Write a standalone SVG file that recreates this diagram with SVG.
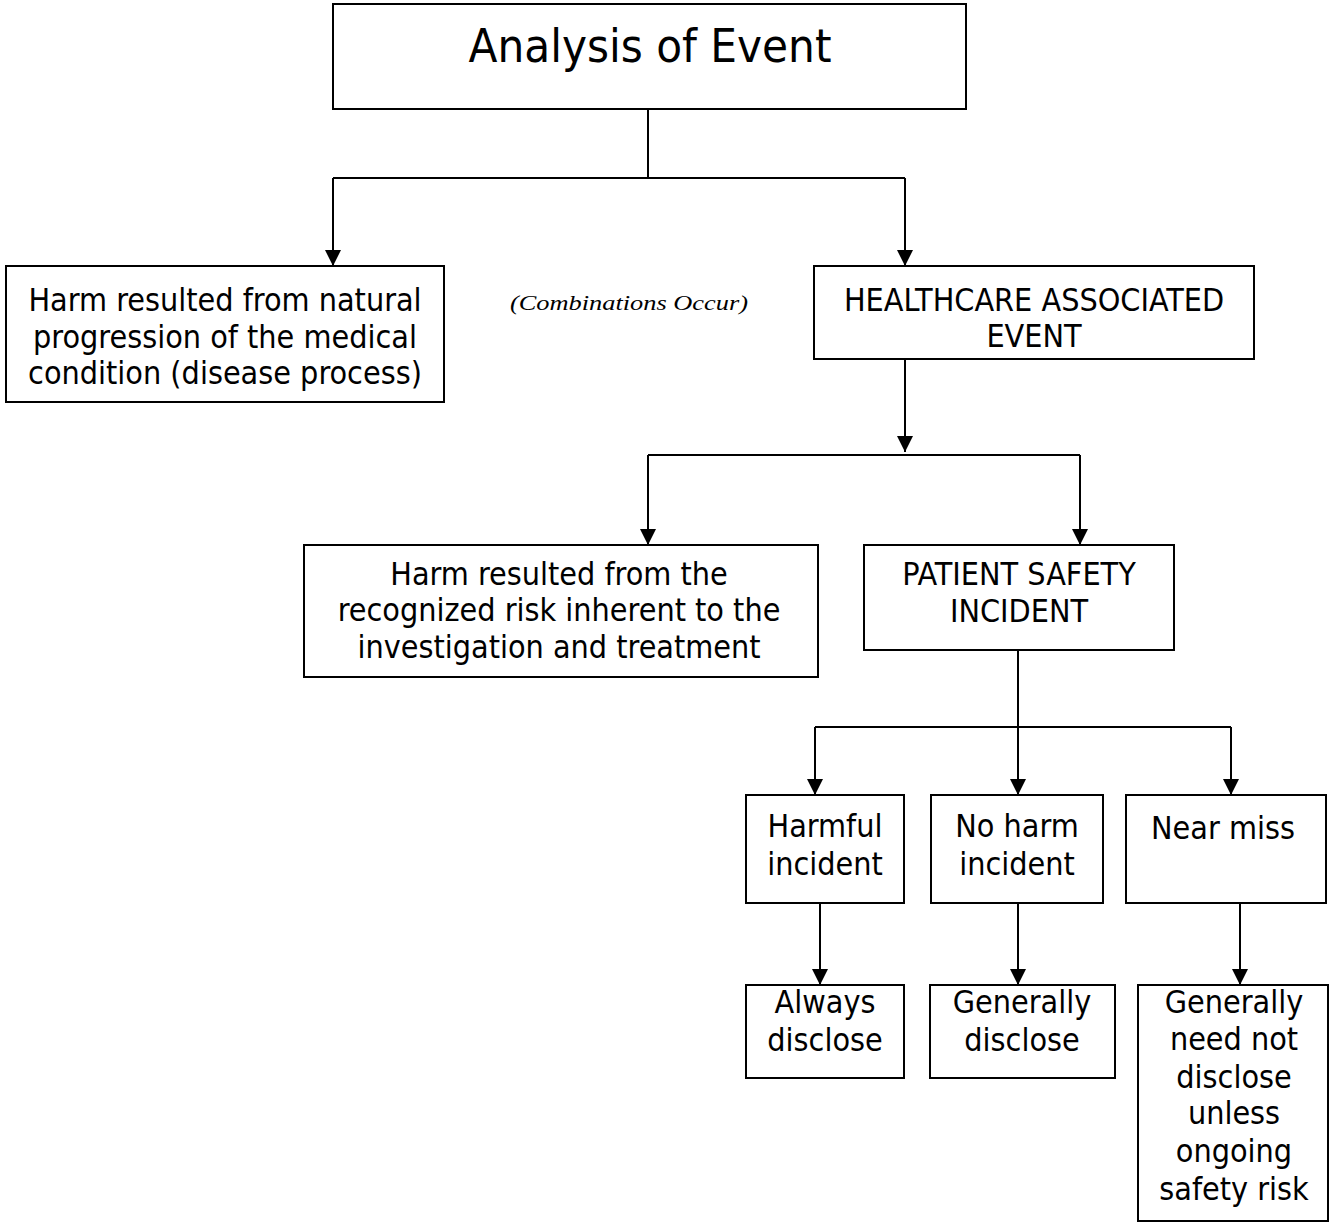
<svg xmlns="http://www.w3.org/2000/svg" width="1334" height="1224" viewBox="0 0 1334 1224">
<style>
.box{fill:#fff;stroke:#000;stroke-width:2}
.ln{fill:none;stroke:#000;stroke-width:2}
.t{font-family:"DejaVu Sans Condensed","DejaVu Sans",sans-serif;font-size:32px;fill:#000;text-anchor:middle}
.it{font-family:"Liberation Serif",serif;font-style:italic;font-size:22px;fill:#000;text-anchor:middle}
</style>
<defs>
<marker id="ah" viewBox="0 0 16 16" refX="16" refY="8" markerWidth="16" markerHeight="16" markerUnits="userSpaceOnUse" orient="auto">
<path d="M0,0 L16,8 L0,16 Z" fill="#000"/>
</marker>
</defs>
<rect width="1334" height="1224" fill="#fff"/>
<g id="connectors">
<line class="ln" x1="648" y1="109" x2="648" y2="178"/>
<line class="ln" x1="333" y1="178" x2="905" y2="178"/>
<line class="ln" x1="333" y1="178" x2="333" y2="266" marker-end="url(#ah)"/>
<line class="ln" x1="905" y1="178" x2="905" y2="266" marker-end="url(#ah)"/>
<line class="ln" x1="905" y1="359" x2="905" y2="452" marker-end="url(#ah)"/>
<line class="ln" x1="648" y1="455" x2="1080" y2="455"/>
<line class="ln" x1="648" y1="455" x2="648" y2="545" marker-end="url(#ah)"/>
<line class="ln" x1="1080" y1="455" x2="1080" y2="545" marker-end="url(#ah)"/>
<line class="ln" x1="1018" y1="650" x2="1018" y2="795" marker-end="url(#ah)"/>
<line class="ln" x1="815" y1="727" x2="1231" y2="727"/>
<line class="ln" x1="815" y1="727" x2="815" y2="795" marker-end="url(#ah)"/>
<line class="ln" x1="1231" y1="727" x2="1231" y2="795" marker-end="url(#ah)"/>
<line class="ln" x1="820" y1="903" x2="820" y2="985" marker-end="url(#ah)"/>
<line class="ln" x1="1018" y1="903" x2="1018" y2="985" marker-end="url(#ah)"/>
<line class="ln" x1="1240" y1="903" x2="1240" y2="985" marker-end="url(#ah)"/>
</g>
<g id="analysis">
<rect class="box" x="333" y="4" width="633" height="105"/>
<text class="t" x="650" y="62" style="font-size:47px">Analysis of Event</text>
</g>
<g id="natural">
<rect class="box" x="6" y="266" width="438" height="136"/>
<text class="t" x="225" y="311">Harm resulted from natural</text>
<text class="t" x="225" y="348">progression of the medical</text>
<text class="t" x="225" y="384">condition (disease process)</text>
</g>
<g id="combinations">
<text class="it" x="629" y="310" textLength="238" lengthAdjust="spacingAndGlyphs">(Combinations Occur)</text>
</g>
<g id="healthcare">
<rect class="box" x="814" y="266" width="440" height="93"/>
<text class="t" x="1034" y="311">HEALTHCARE ASSOCIATED</text>
<text class="t" x="1034" y="347">EVENT</text>
</g>
<g id="recognized">
<rect class="box" x="304" y="545" width="514" height="132"/>
<text class="t" x="559" y="585">Harm resulted from the</text>
<text class="t" x="559" y="621">recognized risk inherent to the</text>
<text class="t" x="559" y="658">investigation and treatment</text>
</g>
<g id="patient">
<rect class="box" x="864" y="545" width="310" height="105"/>
<text class="t" x="1019" y="585">PATIENT SAFETY</text>
<text class="t" x="1019" y="622">INCIDENT</text>
</g>
<g id="harmful">
<rect class="box" x="746" y="795" width="158" height="108"/>
<text class="t" x="825" y="837">Harmful</text>
<text class="t" x="825" y="875">incident</text>
</g>
<g id="noharm">
<rect class="box" x="931" y="795" width="172" height="108"/>
<text class="t" x="1017" y="837">No harm</text>
<text class="t" x="1017" y="875">incident</text>
</g>
<g id="nearmiss">
<rect class="box" x="1126" y="795" width="200" height="108"/>
<text class="t" x="1223" y="839">Near miss</text>
</g>
<g id="always">
<rect class="box" x="746" y="985" width="158" height="93"/>
<text class="t" x="825" y="1013">Always</text>
<text class="t" x="825" y="1051">disclose</text>
</g>
<g id="generally">
<rect class="box" x="930" y="985" width="185" height="93"/>
<text class="t" x="1022" y="1013">Generally</text>
<text class="t" x="1022" y="1051">disclose</text>
</g>
<g id="neednot">
<rect class="box" x="1138" y="985" width="190" height="236"/>
<text class="t" x="1234" y="1013">Generally</text>
<text class="t" x="1234" y="1050">need not</text>
<text class="t" x="1234" y="1088">disclose</text>
<text class="t" x="1234" y="1124">unless</text>
<text class="t" x="1234" y="1162">ongoing</text>
<text class="t" x="1234" y="1200">safety risk</text>
</g>
</svg>
